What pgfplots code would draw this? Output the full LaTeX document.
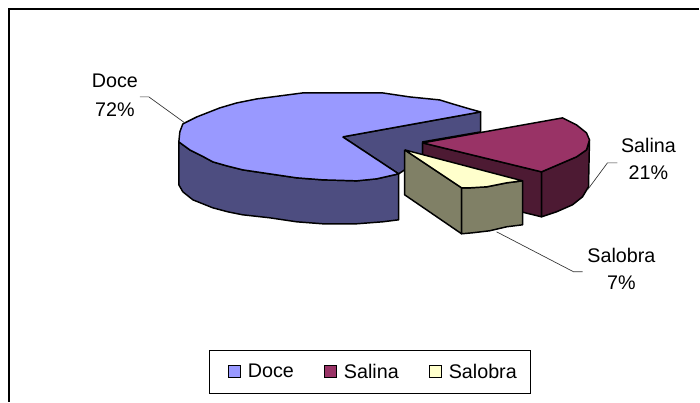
\documentclass[border=0pt]{standalone}
\usepackage{pgfplots}
\pgfplotsset{compat=1.18}
\usepackage{fontspec}
\setmainfont{Liberation Sans}
\definecolor{doceTop}{RGB}{153,153,255}
\definecolor{doceSide}{RGB}{77,77,128}
\definecolor{salinaTop}{RGB}{153,51,102}
\definecolor{salinaSide}{RGB}{77,26,51}
\definecolor{salobraTop}{RGB}{255,255,204}
\definecolor{salobraSide}{RGB}{128,128,102}
% one axis unit = one pixel of the 700x402 reference
\begin{document}
\begin{tikzpicture}
\begin{axis}[
  scale only axis, width=525pt, height=301.5pt,
  xmin=0, xmax=700, ymin=0, ymax=402, y dir=reverse,
  hide axis, clip=false,
  legend image code/.code={\path[draw=none, fill=none] (0pt,0pt) -- (15pt,0pt); \draw[#1, line width=1.1pt] (6pt,-4pt) rectangle (15pt,5pt);},
  legend style={at={(0.529,0.0735)}, anchor=center, draw=black, line width=0.6pt,
    font=\fontsize{14.8}{16}\selectfont, legend columns=3,
    inner xsep=8pt, inner ysep=8pt,
    /tikz/every odd column/.append style={column sep=3pt},
    /tikz/every even column/.append style={column sep=15pt}},
]
\pgfplotsset{pie/.style={draw=black, line width=1.1pt, line join=round, forget plot}}
% keeps the page as large as the whole picture
\addplot[draw=none, forget plot] coordinates {(0,0) (700,402)};
% chart frame
\addplot[draw=black, line width=0.9pt, forget plot] coordinates {(9,402) (9,9) (700,9)};
% Doce: outer wall, inner wall, top
\addplot[pie, fill=doceSide] coordinates {(179,142) (179,185) (183,192) (193,200) (203,204) (213,208) (228,212) (243,215) (270,218) (297,222) (323,224) (357,224) (383,222) (399,220) (399,174) (377,179) (357,181) (323,180) (297,178) (270,174) (243,170) (227,166) (213,162) (202,156) (190,150) (179,142)};
\addplot[pie, fill=doceSide] coordinates {(343,137) (481,112) (481,132) (423,142) (423,160) (405,170) (399,174) (343,137)};
\addplot[pie, fill=doceTop] coordinates {(343,137) (481,112) (470,109) (453,104) (440,100) (410,97) (383,93) (343,93) (303,93) (280,96) (257,99) (237,103) (220,108) (197,117) (183,124) (180,132) (179,142) (190,150) (202,156) (213,162) (227,166) (243,170) (270,174) (297,178) (323,180) (357,181) (377,179) (399,174) (343,137)};
% Salina
\addplot[pie, fill=salinaSide] coordinates {(423,143) (542,172) (542,217) (423,188) (423,143)};
\addplot[pie, fill=salinaSide] coordinates {(542,172) (563,163) (577,157) (587,150) (590,140) (589,187) (583,197) (573,205) (557,212) (542,217) (542,172)};
\addplot[pie, fill=salinaTop] coordinates {(423,143) (563,118) (577,125) (587,133) (590,140) (587,150) (577,157) (563,163) (542,172) (423,143)};
% Salobra
\addplot[pie, fill=salobraSide] coordinates {(405,150) (462,188) (462,234) (405,195) (405,150)};
\addplot[pie, fill=salobraSide] coordinates {(462,188) (470,188) (487,187) (507,183) (523,181) (523,225) (507,227) (490,231) (473,233) (462,234) (462,188)};
\addplot[pie, fill=salobraTop] coordinates {(405,150) (523,181) (507,183) (487,187) (470,188) (462,188) (405,150)};
% leader lines
\addplot[draw=black!80, line width=0.5pt, forget plot] coordinates {(140,97) (149,97) (185,123)};
\addplot[draw=black!80, line width=0.5pt, forget plot] coordinates {(618,163) (608,163) (588,190)};
\addplot[draw=black!80, line width=0.5pt, forget plot] coordinates {(497,232) (574,272) (583,272)};
% data labels
\node[font=\fontsize{14.8}{16}\selectfont, align=center] at (axis cs:115,81) {Doce};
\node[font=\fontsize{14.8}{16}\selectfont, align=center] at (axis cs:115,110) {72\%};
\node[font=\fontsize{14.8}{16}\selectfont, align=center] at (axis cs:649,146) {Salina};
\node[font=\fontsize{14.8}{16}\selectfont, align=center] at (axis cs:649,173) {21\%};
\node[font=\fontsize{14.8}{16}\selectfont, align=center] at (axis cs:622,256) {Salobra};
\node[font=\fontsize{14.8}{16}\selectfont, align=center] at (axis cs:622,283) {7\%};
\addlegendimage{draw=black, fill=doceTop}\addlegendentry{Doce}
\addlegendimage{draw=black, fill=salinaTop}\addlegendentry{Salina}
\addlegendimage{draw=black, fill=salobraTop}\addlegendentry{Salobra}
\end{axis}
\end{tikzpicture}
\end{document}
